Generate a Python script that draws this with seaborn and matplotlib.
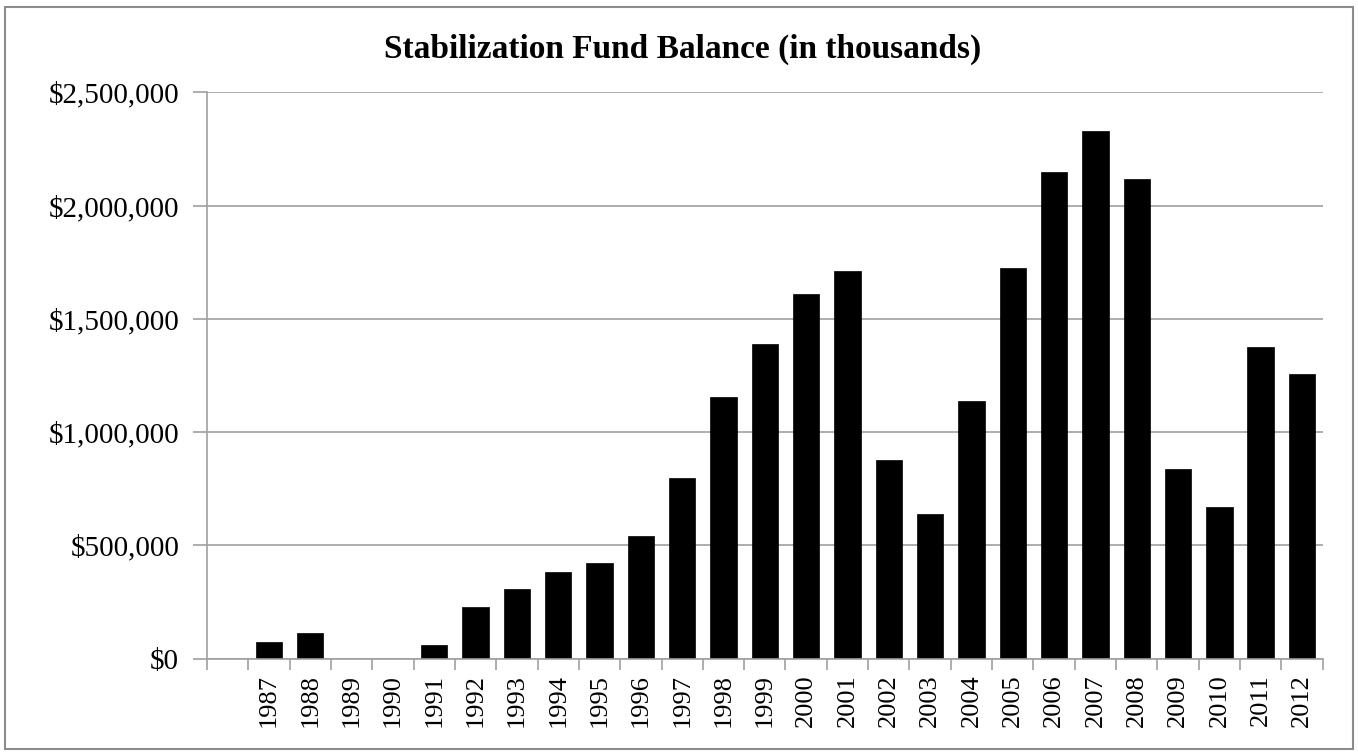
import matplotlib
matplotlib.use("Agg")
import matplotlib.pyplot as plt
import matplotlib.ticker as mticker
import seaborn as sns
import pandas as pd
import numpy as np

categories = ["", "1987", "1988", "1989", "1990", "1991", "1992", "1993", "1994", "1995",
              "1996", "1997", "1998", "1999", "2000", "2001", "2002", "2003", "2004",
              "2005", "2006", "2007", "2008", "2009", "2010", "2011", "2012"]
balances = [0, 72000, 112000, 0, 0, 59000, 229000, 309000, 384000, 423000,
            542000, 798000, 1155000, 1389000, 1609000, 1711000, 877000, 639000, 1138000,
            1724000, 2148000, 2330000, 2116000, 838000, 670000, 1376000, 1257000]
title = "Stabilization Fund Balance (in thousands)"
yticks = [0, 500000, 1000000, 1500000, 2000000, 2500000]

df = pd.DataFrame({"year": categories, "balance": balances})

sns.set_theme(style="white")
plt.rcParams["font.family"] = ["Liberation Serif", "DejaVu Serif"]
plt.rcParams["text.color"] = "black"
plt.rcParams["xtick.labelcolor"] = "black"
plt.rcParams["ytick.labelcolor"] = "black"

fig = plt.figure(figsize=(13.58, 7.54), dpi=100)
ax = fig.add_axes([0.1524, 0.1264, 0.974 - 0.1524, 0.8776 - 0.1264])

sns.barplot(data=df, x="year", y="balance", order=categories, color="black",
            width=0.64, saturation=1, ax=ax, edgecolor="black", linewidth=0.5)

ax.set_ylim(0, 2500000)
ax.set_xlim(-0.5, len(categories) - 0.5)
ax.set_yticks(yticks)
ax.yaxis.set_major_formatter(mticker.FuncFormatter(lambda v, p: "${:,.0f}".format(v)))
ax.set_xlabel("")
ax.set_ylabel("")

ax.set_axisbelow(True)
ax.yaxis.grid(True, color="#a0a0a0", linewidth=1.2)
ax.xaxis.grid(False)

for s in ["top", "right"]:
    ax.spines[s].set_visible(False)
for s in ["left", "bottom"]:
    ax.spines[s].set_color("#a0a0a0")
    ax.spines[s].set_linewidth(1.2)

ax.set_xticks(np.arange(len(categories)))
ax.set_xticklabels(categories, rotation=90, fontsize=19)
ax.set_xticks(np.arange(-0.5, len(categories), 1.0), minor=True)
ax.tick_params(axis="x", which="major", length=0, pad=11, labelcolor="black")
ax.tick_params(axis="x", which="minor", length=8, width=1.2, color="#a0a0a0", direction="out")
ax.tick_params(axis="y", which="major", length=10, width=1.2, color="#a0a0a0",
               direction="out", labelsize=21, pad=10, labelcolor="black")
ax.tick_params(axis="y", left=True)
ax.tick_params(axis="x", bottom=True, which="both")

fig.text(0.503, 0.935, title, ha="center", va="center", fontsize=24,
         fontweight="bold", color="black")

border = plt.Rectangle((0.004, 0.006), 0.992, 0.985, transform=fig.transFigure,
                       fill=False, edgecolor="#8c8c8c", linewidth=1.5)
fig.patches.append(border)

fig.savefig("out.png", dpi=100, facecolor="white")
